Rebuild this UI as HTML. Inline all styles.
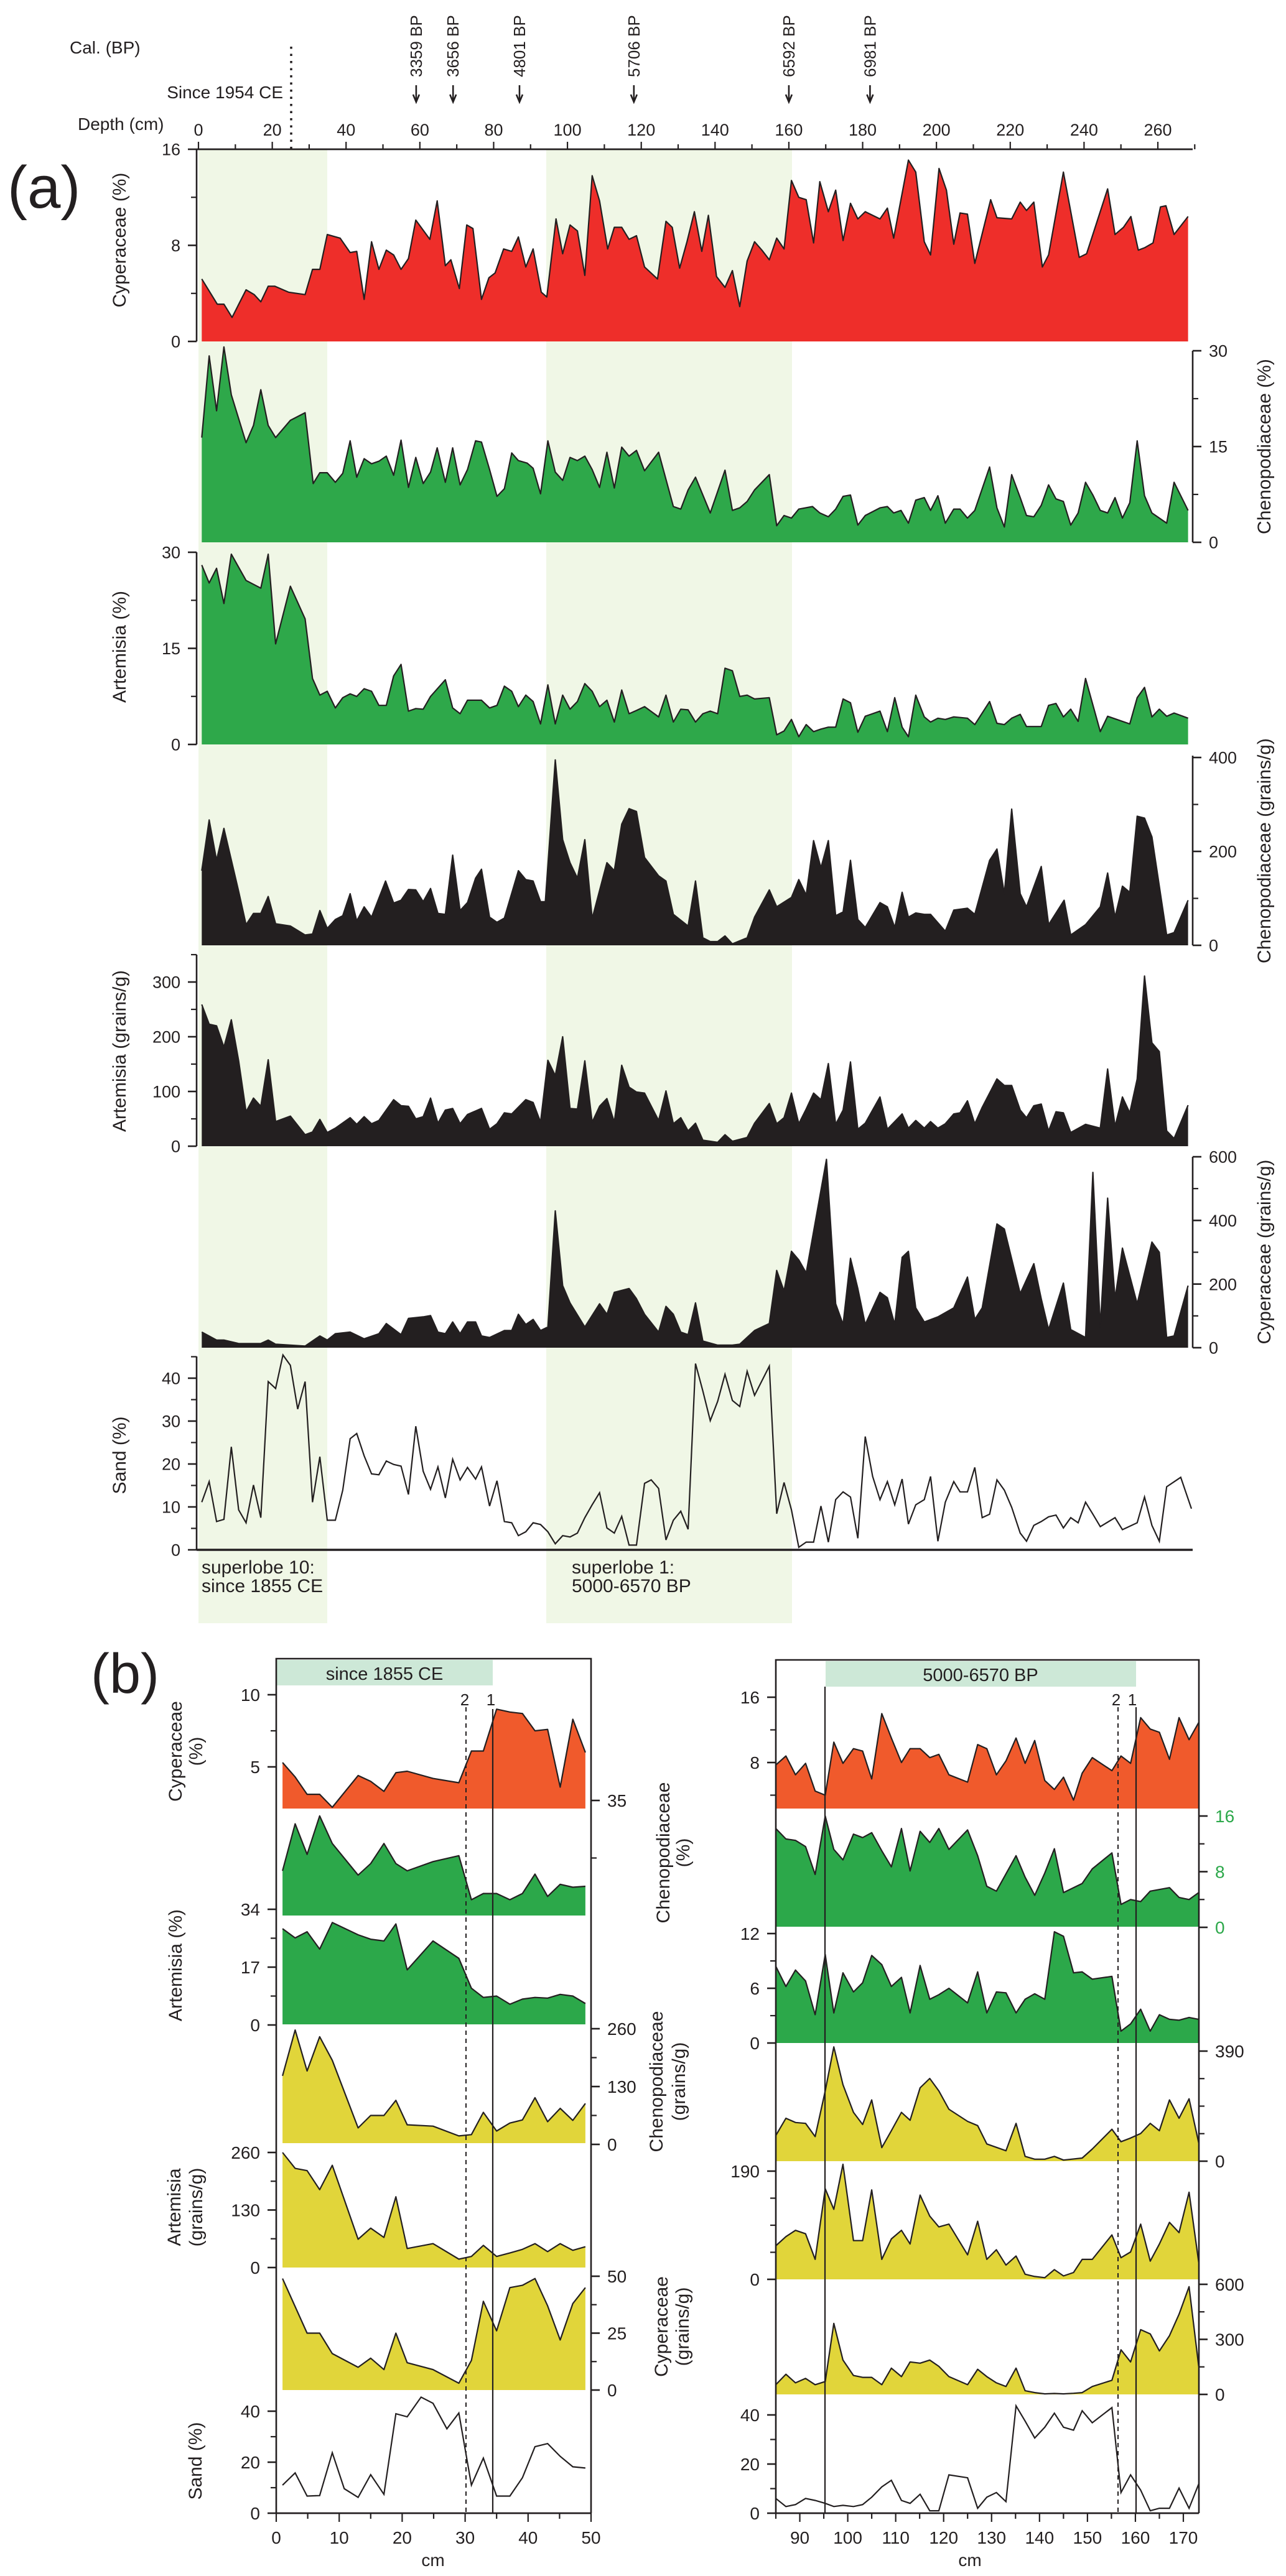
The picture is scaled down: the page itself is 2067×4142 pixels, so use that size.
<!DOCTYPE html>
<html><head><meta charset="utf-8"><style>
html,body{margin:0;padding:0;background:#fff;}
svg{display:block;font-family:"Liberation Sans",Arial,sans-serif;}
</style></head><body>
<svg id="fig" xmlns="http://www.w3.org/2000/svg" width="2067" height="4142" viewBox="0 0 2067 4142"></svg>
<script>
// ===== Panel (a) data: depth (cm) / value =====
const cypPctDepth=[0.9,5.1,6.9,9.1,12.9,15.1,16.9,18.9,20.7,24.4,28.9,30.9,32.9,34.9,38.4,41.1,42.9,44.9,46.9,48.9,50.9,52.9,54.9,56.9,58.9,62.7,64.7,66.9,68.4,70.7,72.7,74.4,76.7,78.7,80.4,82.7,84.9,86.7,88.7,90.7,92.9,94.4,96.9,98.7,100.7,102.7,104.7,106.7,108.7,110.9,112.7,114.7,116.7,118.7,120.9,124.4,126.7,128.4,130.4,132.4,134.4,136.4,138.2,140.4,142.7,144.7,146.7,148.7,150.7,152.7,154.7,156.7,158.7,160.7,162.7,164.7,166.7,168.4,170.7,172.7,174.7,176.7,178.7,180.7,184.7,186.7,188.4,192.4,194.4,196.7,198.4,200.7,202.7,204.7,206.4,208.4,210.4,214.7,216.4,220.4,222.7,224.4,226.4,228.7,230.4,234.4,238.7,240.7,246.4,248.4,250.7,252.7,254.7,256.4,258.7,260.7,262.2,264.4,268.2];
const cypPct=[5.2,3.1,3.1,2.0,4.3,3.9,3.3,4.6,4.6,4.1,3.9,6.0,6.0,8.9,8.6,7.4,7.5,3.5,8.3,6.0,7.6,7.2,6.0,6.9,10.1,8.5,11.7,6.3,6.8,4.4,9.7,9.4,3.5,5.3,5.7,7.7,7.5,8.7,6.2,7.7,4.1,3.7,10.2,7.3,9.7,9.2,5.5,13.8,11.7,7.7,9.5,9.5,8.5,8.8,6.2,5.2,10.0,9.5,6.1,8.3,10.8,7.5,10.5,5.4,4.5,5.9,2.9,6.7,8.3,7.6,6.8,8.6,7.7,13.4,12.0,11.8,8.2,13.3,10.8,12.6,8.4,11.5,10.2,10.8,10.2,11.1,8.6,15.1,14.1,8.3,7.2,14.4,12.6,8.1,10.7,10.6,6.5,11.8,10.3,10.2,11.6,10.9,11.6,6.2,7.2,14.1,7.0,7.3,12.7,8.9,9.5,10.4,7.6,7.8,8.2,11.2,11.3,8.9,10.4];
const chenoPctDepth=[0.9,2.9,4.9,6.9,8.9,12.9,14.9,16.9,18.9,20.9,24.9,28.9,31.1,32.9,34.9,37.1,39.1,41.1,42.9,44.9,46.9,48.9,50.9,52.9,54.9,56.9,58.9,60.9,62.9,64.7,66.9,68.9,70.9,72.9,75.1,76.7,78.9,80.9,82.9,84.9,86.7,89.1,90.7,92.7,94.7,96.7,98.7,100.7,102.7,104.7,106.7,108.7,110.7,112.7,114.7,116.7,118.7,120.9,124.7,128.7,130.7,132.7,134.7,138.7,142.7,144.7,146.7,148.7,150.7,154.7,156.7,158.7,160.7,162.7,166.4,168.4,170.7,172.7,174.7,176.7,178.7,180.7,184.7,186.7,188.4,190.4,192.4,194.4,196.7,198.4,200.4,202.4,204.7,206.4,208.4,210.4,214.4,216.4,218.4,220.4,222.7,224.4,226.4,228.4,230.4,232.4,234.4,236.4,238.4,240.4,242.4,244.4,246.4,248.4,250.4,252.4,254.4,256.4,258.4,262.4,264.4,268.2];
const chenoPct=[16.4,29.2,20.6,30.6,23.1,15.6,18.3,23.9,18.3,16.4,19.1,20.3,9.2,10.9,10.9,9.4,10.8,15.9,10.2,13.1,12.3,12.7,13.5,10.5,16.0,8.6,13.3,9.2,11.0,14.8,9.4,14.8,9.0,11.4,15.9,15.7,11.4,7.2,8.4,14.0,12.8,12.4,11.6,7.6,15.9,11.0,9.7,13.3,12.8,13.5,11.4,8.6,14.1,8.5,14.9,13.5,14.4,11.2,14.1,5.6,5.2,8.2,10.2,4.6,11.3,5.0,5.4,6.4,8.2,10.6,2.6,4.2,3.8,5.2,5.6,4.6,4.0,5.2,7.2,7.4,2.7,4.2,5.4,5.6,4.6,5.0,3.0,6.6,7.0,5.0,7.3,3.0,5.2,5.2,3.8,5.0,11.8,5.4,2.4,10.6,7.0,4.2,4.0,5.8,9.0,6.8,6.4,2.7,4.6,9.4,7.4,5.0,4.6,7.0,3.8,6.2,15.9,7.3,4.6,3.0,9.4,5.0];
const artPctDepth=[0.9,2.9,4.9,6.9,8.9,12.9,16.9,18.9,20.9,24.9,28.9,30.9,32.9,34.9,37.1,39.1,41.1,42.9,44.9,46.9,48.9,50.9,52.9,54.9,56.9,58.9,60.9,62.9,66.9,68.9,70.9,72.9,76.7,78.9,80.9,82.9,84.9,86.7,88.7,90.7,92.7,94.7,96.7,98.7,100.7,102.7,104.7,106.7,108.7,110.7,112.7,114.7,116.7,118.7,120.9,124.7,126.7,128.7,130.7,132.7,134.7,136.7,138.7,140.7,142.7,144.7,146.7,148.7,150.7,154.7,156.7,158.7,160.7,162.7,164.7,166.7,168.7,170.7,172.7,174.7,176.7,178.7,180.7,184.7,186.7,188.7,190.7,192.4,194.4,196.7,198.4,200.4,202.4,204.7,208.4,210.4,214.4,216.4,218.4,220.4,222.7,224.4,228.4,230.4,232.4,234.4,236.4,238.4,240.4,244.4,246.4,250.4,252.4,254.4,256.4,258.4,260.4,262.4,264.4,268.2];
const artPct=[28.0,25.2,27.5,22.0,29.7,25.6,24.4,29.7,15.7,24.7,19.6,10.3,7.7,8.3,5.7,7.3,7.9,7.5,8.7,8.3,6.1,6.1,10.7,12.5,5.2,5.6,5.5,7.5,10.1,5.7,4.8,6.9,6.9,5.7,6.1,9.1,8.3,5.9,7.7,6.7,3.2,9.3,3.2,7.7,5.5,6.7,9.5,8.3,5.9,6.9,3.5,8.5,4.8,5.3,5.9,4.3,7.7,3.5,5.5,5.4,3.5,4.8,5.2,4.8,11.9,11.5,7.5,7.7,7.1,7.3,1.5,2.1,3.9,1.2,3.1,2.0,2.4,2.7,2.7,7.1,6.5,1.9,4.4,5.2,2.0,7.3,2.7,1.2,7.7,4.3,3.5,4.1,3.9,4.3,4.1,3.1,6.7,3.3,3.1,4.1,4.7,2.8,2.8,6.1,6.4,4.3,5.5,3.6,10.3,2.0,4.4,3.6,3.2,7.3,8.9,4.3,5.5,4.4,4.9,4.1];
const chenoGrDepth=[0.9,2.9,4.9,6.9,10.9,12.9,14.9,16.9,18.9,20.9,24.9,28.9,30.9,32.9,34.9,37.1,39.1,41.1,42.9,44.9,46.9,50.7,52.9,54.9,56.9,58.9,60.9,62.9,64.9,66.9,68.9,70.9,72.9,75.1,76.7,78.9,80.9,82.9,86.7,88.7,90.7,92.7,94.0,96.7,98.7,100.7,102.7,104.7,106.7,110.7,112.7,114.7,116.7,118.7,120.9,124.7,126.7,128.7,132.7,134.7,136.7,138.7,140.7,142.7,144.7,148.7,150.7,154.7,156.7,160.7,162.7,164.7,166.7,168.7,170.7,172.7,174.7,176.7,178.7,180.7,184.7,186.7,188.7,190.7,192.4,194.4,196.7,198.4,202.4,204.7,208.4,210.4,214.4,216.4,218.4,220.4,222.7,224.4,228.4,230.4,234.6,236.4,240.4,244.4,246.4,248.4,250.4,252.4,254.4,256.4,258.4,262.4,264.4,268.2];
const chenoGr=[159,267,181,249,115,44,68,68,104,46,41,22,24,74,36,55,63,110,52,82,60,137,90,96,119,118,93,121,68,66,192,74,91,143,162,60,49,58,159,140,137,93,93,395,225,176,143,225,57,176,159,258,291,285,187,148,137,66,41,137,16,8,8,20,3,16,60,118,82,102,140,107,223,165,223,63,71,181,55,38,91,82,38,113,60,69,66,66,30,75,79,66,181,205,110,290,110,82,168,44,96,22,44,82,154,60,126,113,275,271,231,22,27,96];
const artGrDepth=[0.9,2.9,4.9,6.9,8.9,10.9,12.9,14.9,16.9,18.9,20.9,24.9,28.9,30.9,32.9,34.9,37.1,41.1,42.9,44.9,46.9,48.9,52.9,54.9,56.9,58.9,60.9,62.9,64.9,66.9,68.9,70.9,72.9,76.7,78.9,80.9,82.9,84.9,88.7,90.7,92.7,94.7,96.7,98.7,100.7,102.7,104.7,106.7,108.7,110.7,112.7,114.7,116.7,118.7,120.9,124.7,126.7,128.7,130.7,132.7,134.7,136.7,140.7,142.7,144.7,148.7,150.7,154.7,156.7,158.7,160.7,162.7,164.7,166.7,168.7,170.7,172.7,174.7,176.7,178.7,180.7,184.7,186.7,190.7,192.4,194.4,196.7,198.4,200.4,202.4,204.7,206.4,208.4,210.4,212.4,216.4,218.4,220.4,222.7,224.4,226.4,228.4,230.4,232.4,234.4,236.4,240.4,244.4,246.4,248.4,250.4,252.4,254.4,256.4,258.4,260.4,262.4,264.4,268.2];
const artGr=[259,223,220,181,231,156,63,88,73,158,45,55,21,26,49,25,33,52,40,54,41,47,85,74,73,50,54,88,42,66,69,41,58,69,31,41,61,59,85,80,44,157,129,200,69,68,156,44,73,87,44,148,108,99,97,47,101,41,52,28,42,11,7,21,9,16,42,78,41,52,97,41,68,97,85,151,40,66,154,31,42,90,31,59,33,47,33,45,33,41,59,61,83,41,71,123,111,111,66,52,74,77,28,63,61,25,40,33,141,36,90,61,123,311,189,173,28,14,75];
const cypGrDepth=[0.9,4.9,6.9,10.9,16.9,18.9,20.9,24.9,28.9,32.9,34.9,37.1,41.1,44.9,48.9,50.9,54.9,56.9,60.9,62.9,64.9,66.9,68.9,70.9,72.9,75.1,76.7,78.9,82.9,84.9,86.7,88.7,90.7,92.7,94.7,96.7,98.7,100.7,104.7,108.7,110.7,112.7,116.7,118.7,120.9,124.7,126.7,128.7,130.7,132.7,134.7,136.7,140.7,144.7,146.7,150.7,154.7,156.7,158.7,160.7,162.7,164.7,170.2,172.7,174.7,176.7,178.7,180.7,184.7,186.7,188.7,190.7,192.4,194.4,196.7,200.4,204.7,208.4,210.4,212.4,216.4,218.4,222.7,226.4,228.4,230.4,234.4,236.4,240.4,242.4,244.4,246.4,248.4,250.4,254.4,258.4,260.4,262.4,264.4,268.2];
const cypGr=[49,24,24,13,13,24,11,8,5,37,24,44,49,28,44,76,41,92,97,101,49,44,81,44,81,81,37,32,54,54,105,73,89,54,65,430,195,141,65,138,105,174,186,154,105,49,130,105,49,41,141,21,8,8,11,54,76,243,178,303,276,235,592,138,73,281,186,73,174,157,73,284,303,125,81,97,125,222,89,125,389,373,170,264,154,57,203,57,32,551,65,470,154,313,138,332,300,32,37,195];
const sandDepth=[0.9,2.9,4.9,6.9,8.9,10.9,12.9,14.9,16.9,18.9,20.9,22.9,24.9,26.9,28.9,30.9,32.9,34.9,37.1,39.1,41.1,42.9,44.9,46.9,48.9,50.9,52.9,54.9,56.9,58.9,60.9,62.9,64.9,66.9,68.9,70.9,72.9,75.1,76.7,78.9,80.9,82.9,84.9,86.7,88.7,90.7,92.7,94.7,96.7,98.7,100.7,102.7,104.7,106.7,108.7,110.7,112.7,114.7,116.7,118.7,120.9,122.7,124.7,126.7,128.7,130.7,132.7,134.7,136.7,138.7,140.7,142.7,144.7,146.7,148.7,150.7,154.7,156.7,158.7,160.7,162.7,164.7,166.7,168.7,170.7,172.7,174.7,176.7,178.7,180.7,182.7,184.7,186.7,188.7,190.7,192.4,194.4,196.7,198.4,200.4,202.4,204.7,206.4,208.4,210.4,212.4,214.4,216.4,218.4,220.4,222.7,224.4,226.4,228.4,230.4,232.4,234.4,236.4,238.4,240.4,242.4,244.4,248.4,250.4,254.4,256.4,258.4,260.4,262.4,266.2,269.1];
const sandPct=[11.1,15.9,6.6,7.1,24.0,9.3,6.3,15.1,7.5,39.2,37.6,45.4,43.0,32.8,39.2,11.1,21.7,6.9,6.9,13.9,25.9,27.1,21.9,17.7,17.5,20.7,19.9,19.5,12.9,28.8,18.3,14.1,19.3,12.1,21.1,16.3,19.2,16.5,19.3,10.2,16.1,6.6,6.3,3.3,4.2,6.3,5.9,4.2,1.4,3.3,3.0,3.9,7.5,10.5,13.3,5.1,3.9,7.8,1.1,1.1,15.5,16.3,14.3,2.3,6.9,9.0,4.8,43.4,37.0,30.1,34.6,40.9,34.8,33.4,41.6,36.0,42.8,8.4,15.7,9.3,0.6,1.8,1.8,10.2,1.8,11.7,13.5,12.3,2.7,26.4,17.1,11.7,15.9,10.5,16.5,6.0,10.5,11.7,17.1,2.0,11.1,15.9,13.5,13.5,19.2,7.5,8.3,16.3,13.9,9.9,3.9,2.0,5.7,6.6,7.7,8.1,5.1,7.5,6.3,11.1,8.3,5.4,7.5,4.7,6.3,12.3,5.7,2.0,14.7,16.9,9.6];
const depthTicks=[0,20,40,60,80,100,120,140,160,180,200,220,240,260];
const ageLabels=['3359 BP','3656 BP','4801 BP','5706 BP','6592 BP','6981 BP'];
const ageDepths=[59,69,87,118,160,182];

// ===== Panel (b) data =====
const bL_cm=[1.0,3.0,4.9,6.9,8.9,13.0,15.0,17.1,19.0,20.8,24.9,29.0,31.0,32.9,35.0,37.1,39.1,41.1,43.1,45.1,47.1,49.1];
const bL_cyp=[5.3,4.3,3.1,3.1,2.2,4.4,4.0,3.3,4.6,4.7,4.2,3.9,6.1,6.1,9.0,8.8,8.7,7.5,7.6,3.6,8.3,6.0];
const bL_cheno=[13.6,27.9,18.6,30.3,21.9,12.3,15.8,21.9,15.8,13.6,16.4,18.2,4.8,6.7,6.7,4.8,6.7,12.6,5.8,9.5,8.6,8.9];
const bL_art=[28.3,25.6,27.4,22.3,30.1,26.5,25.2,24.7,29.7,16.2,24.7,19.6,10.8,8.1,8.5,6.1,7.6,8.1,7.9,9.0,8.5,6.3];
const bL_chenoGr=[154,257,165,242,189,37,65,65,99,44,41,19,22,72,30,48,55,105,51,81,54,92];
const bL_artGr=[260,224,219,176,231,64,89,68,160,43,54,19,25,50,25,33,41,54,36,54,39,47];
const bL_cm2=[1.0,4.9,6.9,8.9,13.0,15.0,17.1,19.0,20.8,24.9,29.0,31.0,32.9,35.0,37.1,39.1,41.1,43.1,45.1,47.1,49.1];
const bL_cypGr=[49,25,25,16,10,14,9,25,12,9,3,13,39,26,45,46,49,37,22,38,45];
const bL_sandCm=[1.0,3.0,4.9,6.9,8.9,10.8,13.0,15.0,17.1,19.0,20.8,23.0,24.9,27.1,29.0,31.0,32.9,35.0,37.1,39.1,41.1,43.1,45.1,47.1,49.1];
const bL_sand=[11,15.8,6.7,6.9,23.7,9.6,6.2,15.1,7.4,39,37.8,45.5,43.1,33.1,39.3,11,21.6,6.7,6.7,13.9,26.1,27.3,22.3,18.2,17.7];

const bR_cm=[85,87.1,89.1,91.2,93.2,95.3,97.1,99,101.2,103.1,105,107.1,109.1,111.2,113,115.1,117.1,119,121.1,125,127.1,129,131,133,135.1,137,139,141.1,143.1,145,147.1,148.9,151,155.1,157,159,161.1,163.1,165,167.1,169.1,171.2,173.2];
const bR_cyp=[7.7,8.8,6.5,7.9,4.5,4.0,10.5,7.9,9.7,9.4,6.0,14.0,11.0,8.0,9.7,9.7,8.6,9.0,6.5,5.6,10.2,9.7,6.5,8.2,11.0,7.9,10.7,5.8,4.7,6.2,3.4,6.7,8.6,7.0,8.8,7.9,13.5,12.1,11.7,8.4,13.5,10.8,12.9];
const bR_art=[8.4,6.2,8.0,6.8,3.1,9.7,3.3,7.7,5.6,6.6,9.6,8.6,6.2,7.2,3.3,8.5,4.8,5.3,6.0,4.4,7.8,3.3,5.6,5.5,3.3,4.8,5.4,4.8,12.2,11.7,7.7,7.8,7.0,7.3,1.3,2.1,3.7,1.3,3.1,2.6,2.5,2.8,2.6];
const bR_artGr=[59,75,86,80,35,159,123,202,68,68,157,35,71,86,62,148,111,92,97,43,102,35,52,25,41,9,5,3,17,6,12,35,35,78,38,48,97,32,62,100,82,153,30];
const bR_cypGr=[53,110,63,87,53,70,387,187,103,93,93,53,143,97,177,170,187,153,97,53,137,97,63,43,143,20,10,3,5,3,6,10,43,77,243,177,353,330,237,320,437,587,153];
const bR_sand=[6.0,2.7,3.5,6.0,5.2,4.0,2.7,3.2,2.7,3.5,6.5,10.7,13.4,5.2,4.0,7.7,1.0,1.0,15.6,14.4,2.0,6.5,8.4,4.7,43.7,37.5,30.6,35.0,40.7,35.0,33.8,41.7,36.8,43.0,8.4,15.6,9.4,1.0,2.0,2.0,10.2,2.0,11.9];
const bR_cm2=[85,87.1,89.1,91.2,93.2,95.3,97.1,99,101.2,103.1,105,107.1,109.1,111.2,113,115.1,117.1,119,121.1,125,127.1,129,131,135.1,137,139,141.1,143.1,145,147.1,148.9,151,155.1,157,159,161.1,163.1,167.1,169.1,171.2,173.2];
const bR_cheno=[14.2,12.7,12.5,11.6,7.6,16.0,11.2,9.7,13.4,12.9,13.6,11.0,8.7,14.2,8.1,13.8,12.2,14.2,11.2,14.0,10.3,5.9,5.2,10.3,7.2,4.6,7.8,11.3,5.0,5.7,6.3,8.4,10.7,3.3,4.0,3.7,5.2,5.7,4.3,4.0,5.0];
const bR_cm3=[85,87.1,89.1,91.2,93.2,95.3,97.1,99,101.2,103.1,105,107.1,109.1,111.2,113,115.1,117.1,119,121.1,125,127.1,129,133,135.1,137,139,141.1,143.1,145,148.9,151,155.1,157,159,161.1,163.1,165,167.1,169.1,171.2,173.2];
const bR_chenoGr=[91,152,137,134,87,249,405,271,173,130,217,48,108,173,145,260,293,249,184,141,126,61,37,134,17,7,7,17,4,11,43,113,69,82,98,134,108,217,152,221,65];

// ===== drawing =====
const svg=document.getElementById('fig');
const NS='http://www.w3.org/2000/svg';
function mk(tag,attrs,parent){const e=document.createElementNS(NS,tag);for(const k in attrs)e.setAttribute(k,attrs[k]);(parent||svg).appendChild(e);return e;}
function lin(v0,p0,v1,p1){return v=>p0+(v-v0)*(p1-p0)/(v1-v0);}
function txt(s,x,y,size,anchor,rot,color){const t=mk('text',{x:x,y:y,'font-size':size,'text-anchor':anchor||'start',fill:color||'#231f20'});if(rot)t.setAttribute('transform','rotate('+rot+' '+x+' '+y+')');t.textContent=s;return t;}
function area(name,dep,val,xf,yf,base,fill){
  let d='M'+xf(dep[0]).toFixed(1)+','+base;let l='';
  for(let i=0;i<dep.length;i++){const p=xf(dep[i]).toFixed(1)+','+Math.min(base,yf(val[i])).toFixed(1);d+=' L'+p;l+=(i?' L':'M')+p;}
  d+=' L'+xf(dep[dep.length-1]).toFixed(1)+','+base+' Z';
  const a=mk('path',{d:d,fill:fill});
  
  
  const s=mk('path',{d:l,fill:'none',stroke:'#231f20','stroke-width':2.2,'stroke-linejoin':'round'});
  
  
}
function line(name,dep,val,xf,yf){
  let l='';for(let i=0;i<dep.length;i++){l+=(i?' L':'M')+xf(dep[i]).toFixed(1)+','+yf(val[i]).toFixed(1);}
  const s=mk('path',{d:l,fill:'none',stroke:'#231f20','stroke-width':2.2});
  
  
}
function yaxis(name,x,side,yf,labels,minors,y0,y1,fs,color){
  const g=mk('g',{});
  
  
  mk('line',{x1:x,y1:y0,x2:x,y2:y1,stroke:'#231f20','stroke-width':2.6},g);
  const dir=side==='left'?-1:1;
  labels.forEach(v=>{const y=yf(v);mk('line',{x1:x,y1:y,x2:x+dir*14,y2:y,stroke:'#231f20','stroke-width':2.6},g);
    const t=txt(String(v),x+dir*26,y+fs*0.36,fs,side==='left'?'end':'start',0,color);g.appendChild(t);});
  minors.forEach(v=>{const y=yf(v);mk('line',{x1:x,y1:y,x2:x+dir*9,y2:y,stroke:'#231f20','stroke-width':2.2},g);});
}

// ---- Panel (a) ----
const xa=lin(0,319,260,1861);
const shA1=mk('rect',{x:319,y:240,width:207,height:2370,fill:'#f0f7e6'});


const shA2=mk('rect',{x:878,y:240,width:395,height:2370,fill:'#f0f7e6'});



const yCyp=lin(0,549,16,240), yChP=lin(0,872,30,564), yArP=lin(0,1197,30,888), yChG=lin(0,1520,200,1369), yArG=lin(0,1843,300,1579), yCyG=lin(0,2167,600,1860), ySand=lin(0,2492,40,2216);
area('cyperaceae-pct',cypPctDepth,cypPct,xa,yCyp,549,'#ee2e2a');
area('chenopodiaceae-pct',chenoPctDepth,chenoPct,xa,yChP,872,'#2ea84a');
area('artemisia-pct',artPctDepth,artPct,xa,yArP,1197,'#2ea84a');
area('chenopodiaceae-conc',chenoGrDepth,chenoGr,xa,yChG,1520,'#231f20');
area('artemisia-conc',artGrDepth,artGr,xa,yArG,1843,'#231f20');
area('cyperaceae-conc',cypGrDepth,cypGr,xa,yCyG,2167,'#231f20');
line('sand',sandDepth,sandPct,xa,ySand);

yaxis('cyperaceae-y-axis',316,'left',yCyp,[0,8,16],[4,12],240,549,27);
yaxis('artemisia-pct-y-axis',316,'left',yArP,[0,15,30],[7.5,22.5],888,1197,27);
yaxis('artemisia-conc-y-axis',316,'left',yArG,[0,100,200,300],[50,150,250,350],1535,1843,27);
yaxis('sand-y-axis',316,'left',ySand,[0,10,20,30,40],[5,15,25,35,45],2181,2492,27);
yaxis('chenopodiaceae-pct-y-axis',1917,'right',yChP,[0,15,30],[7.5,22.5],564,872,27);
yaxis('chenopodiaceae-conc-y-axis',1917,'right',yChG,[0,200,400],[100,300],1215,1520,27);
yaxis('cyperaceae-conc-y-axis',1917,'right',yCyG,[0,200,400,600],[100,300,500],1860,2167,27);

// top depth axis
const topAx=mk('g',{});


mk('line',{x1:316,y1:240,x2:1917,y2:240,stroke:'#231f20','stroke-width':2.8},topAx);
for(let d=0;d<=270;d+=10){const x=xa(d);mk('line',{x1:x,y1:240,x2:x,y2:d%20===0?228:232,stroke:'#231f20','stroke-width':2.2},topAx);}
depthTicks.forEach(d=>{const t=txt(String(d),xa(d),218,27,'middle');topAx.appendChild(t);});
const sandX=mk('line',{x1:316,y1:2492,x2:1917,y2:2492,stroke:'#231f20','stroke-width':3.5});



const dl=mk('line',{x1:468,y1:75,x2:468,y2:240,stroke:'#231f20','stroke-width':3.5,'stroke-dasharray':'3.5 8'});


let t;
t=txt('Cal. (BP)',112,86,28);
t=txt('Since 1954 CE',455,158,28,'end');
t=txt('Depth (cm)',125,209,28);
ageLabels.forEach((s,i)=>{const x=xa(ageDepths[i]);
  const tt=txt(s,x+9,124,26,'start',-90);
  
  
  const ar=mk('path',{d:'M'+x+',137 L'+x+',162 M'+(x-5)+',152 L'+x+',164 L'+(x+5)+',152',fill:'none',stroke:'#231f20','stroke-width':2.6});
  
  });
t=txt('(a)',12,334,96);
t=txt('Cyperaceae (%)',202,386,30,'middle',-90);
t=txt('Artemisia (%)',202,1040,30,'middle',-90);
t=txt('Artemisia (grains/g)',202,1690,30,'middle',-90);
t=txt('Sand (%)',202,2340,30,'middle',-90);
t=txt('Chenopodiaceae (%)',2042,718,30,'middle',-90);
t=txt('Chenopodiaceae (grains/g)',2042,1368,30,'middle',-90);
t=txt('Cyperaceae (grains/g)',2042,2013,30,'middle',-90);
t=txt('superlobe 10:',324,2530,30);
t=txt('since 1855 CE',324,2560,30);
t=txt('superlobe 1:',919,2530,30);
t=txt('5000-6570 BP',919,2560,30);

// ---- Panel (b) ----
t=txt('(b)',146,2722,90);
// left sub-panel
const xl=lin(0,444,50,950);
let r=mk('rect',{x:444,y:2669,width:348,height:41,fill:'#cde8d7'});


t=txt('since 1855 CE',618,2701,29,'middle');
const lCy=lin(5,2841,10,2725), lCh=lin(0,3080,35,2895), lAr=lin(0,3256,34,3070), lChG=lin(0,3448,260,3262), lArG=lin(0,3646,260,3461), lCyG=lin(0,3843,50,3660), lSa=lin(0,4041,40,3877);
area('b-left-cyperaceae-pct',bL_cm,bL_cyp,xl,lCy,2908,'#f05a2c');
area('b-left-chenopodiaceae-pct',bL_cm,bL_cheno,xl,lCh,3080,'#2ca84a');
area('b-left-artemisia-pct',bL_cm,bL_art,xl,lAr,3255,'#2ca84a');
area('b-left-chenopodiaceae-conc',bL_cm,bL_chenoGr,xl,lChG,3446,'#e1d53a');
area('b-left-artemisia-conc',bL_cm,bL_artGr,xl,lArG,3646,'#e1d53a');
area('b-left-cyperaceae-conc',bL_cm2,bL_cypGr,xl,lCyG,3843,'#e1d53a');
line('b-left-sand',bL_sandCm,bL_sand,xl,lSa);
const fL=mk('path',{d:'M444,4041 L444,2667 L950,2667 L950,4041',fill:'none',stroke:'#231f20','stroke-width':2.6});


yaxis('b-left-cyperaceae-axis',444,'left',lCy,[5,10],[7.5],2725,2725,28);
yaxis('b-left-artemisia-axis',444,'left',lAr,[0,17,34],[8.5,25.5],3070,3070,28);
yaxis('b-left-artemisia-conc-axis',444,'left',lArG,[0,130,260],[65,195],3461,3461,28);
yaxis('b-left-sand-axis',444,'left',lSa,[0,20,40],[10,30],3877,3877,28);
yaxis('b-left-chenopodiaceae-axis',950,'right',lCh,[35],[17.5],2895,2895,28);
yaxis('b-left-chenopodiaceae-conc-axis',950,'right',lChG,[0,130,260],[65,195],3262,3262,28);
yaxis('b-left-cyperaceae-conc-axis',950,'right',lCyG,[0,25,50],[12.5,37.5],3660,3660,28);
const xbL=mk('g',{});


mk('line',{x1:444,y1:4041,x2:950,y2:4041,stroke:'#231f20','stroke-width':2.8},xbL);
for(let c=0;c<=50;c+=5){mk('line',{x1:xl(c),y1:4041,x2:xl(c),y2:c%10===0?4055:4050,stroke:'#231f20','stroke-width':2.2},xbL);}
for(let c=0;c<=50;c+=10){xbL.appendChild(txt(String(c),xl(c),4090,28,'middle'));}
t=txt('cm',696,4126,28,'middle');
let v=mk('line',{x1:749,y1:2745,x2:749,y2:4041,stroke:'#231f20','stroke-width':2,'stroke-dasharray':'7 6'});


v=mk('line',{x1:792,y1:2748,x2:792,y2:4041,stroke:'#231f20','stroke-width':2.2});


t=txt('2',747,2742,26,'middle');
t=txt('1',789,2742,26,'middle');
t=txt('Cyperaceae',292,2816,30,'middle',-90);
t=txt('(%)',325,2816,30,'middle',-90);
t=txt('Artemisia (%)',292,3160,30,'middle',-90);
t=txt('Artemisia',290,3549,30,'middle',-90);
t=txt('(grains/g)',325,3549,30,'middle',-90);
t=txt('Sand (%)',324,3957,30,'middle',-90);
t=txt('Chenopodiaceae',1076,2979,30,'middle',-90);
t=txt('(%)',1108,2979,30,'middle',-90);
t=txt('Chenopodiaceae',1065,3347,30,'middle',-90);
t=txt('(grains/g)',1101,3347,30,'middle',-90);
t=txt('Cyperaceae',1073,3741,30,'middle',-90);
t=txt('(grains/g)',1107,3741,30,'middle',-90);

// right sub-panel
const xr=lin(85,1247,170,1902);
r=mk('rect',{x:1327,y:2671,width:499,height:41,fill:'#cde8d7'});


t=txt('5000-6570 BP',1576,2703,29,'middle');
const rCy=lin(8,2834,16,2729), rCh=lin(0,3099,16,2920), rAr=lin(0,3285,12,3109), rChG=lin(0,3475,390,3298), rArG=lin(0,3665,190,3491), rCyG=lin(0,3850,600,3673), rSa=lin(0,4041,40,3883);
const xrc=c=>Math.min(1927,xr(c));
area('b-right-cyperaceae-pct',bR_cm,bR_cyp,xrc,rCy,2908,'#f05a2c');
area('b-right-chenopodiaceae-pct',bR_cm2,bR_cheno,xrc,rCh,3098,'#2ca84a');
area('b-right-artemisia-pct',bR_cm,bR_art,xrc,rAr,3285,'#2ca84a');
area('b-right-chenopodiaceae-conc',bR_cm3,bR_chenoGr,xrc,rChG,3475,'#e1d53a');
area('b-right-artemisia-conc',bR_cm,bR_artGr,xrc,rArG,3665,'#e1d53a');
area('b-right-cyperaceae-conc',bR_cm,bR_cypGr,xrc,rCyG,3850,'#e1d53a');
line('b-right-sand',bR_cm,bR_sand,xrc,rSa);
const fR=mk('path',{d:'M1247,4041 L1247,2669 L1927,2669 L1927,4041',fill:'none',stroke:'#231f20','stroke-width':2.6});


yaxis('b-right-cyperaceae-axis',1247,'left',rCy,[8,16],[4,12],2729,2729,28);
yaxis('b-right-artemisia-axis',1247,'left',rAr,[0,6,12],[3,9],3109,3109,28);
yaxis('b-right-artemisia-conc-axis',1247,'left',rArG,[0,190],[47.5,95,142.5],3491,3491,28);
yaxis('b-right-sand-axis',1247,'left',rSa,[0,20,40],[10,30],3883,3883,28);
yaxis('b-right-chenopodiaceae-axis',1927,'right',rCh,[0,8,16],[4,12],2920,2920,28,'#2ca84a');
yaxis('b-right-chenopodiaceae-conc-axis',1927,'right',rChG,[0,390],[97.5,195,292.5],3298,3298,28);
yaxis('b-right-cyperaceae-conc-axis',1927,'right',rCyG,[0,300,600],[150,450],3673,3673,28);
const xbR=mk('g',{});


mk('line',{x1:1247,y1:4041,x2:1927,y2:4041,stroke:'#231f20','stroke-width':2.8},xbR);
for(let c=85;c<=170;c+=5){mk('line',{x1:xr(c),y1:4041,x2:xr(c),y2:c%10===0?4055:4050,stroke:'#231f20','stroke-width':2.2},xbR);}
for(let c=90;c<=170;c+=10){xbR.appendChild(txt(String(c),xr(c),4090,28,'middle'));}
t=txt('cm',1559,4126,28,'middle');
v=mk('line',{x1:1326,y1:2712,x2:1326,y2:4041,stroke:'#231f20','stroke-width':2.2});


v=mk('line',{x1:1797,y1:2745,x2:1797,y2:4041,stroke:'#231f20','stroke-width':2,'stroke-dasharray':'7 6'});


v=mk('line',{x1:1826,y1:2745,x2:1826,y2:4041,stroke:'#231f20','stroke-width':2.2});


t=txt('2',1794,2742,26,'middle');
t=txt('1',1820,2742,26,'middle');
</script>
</body></html>
